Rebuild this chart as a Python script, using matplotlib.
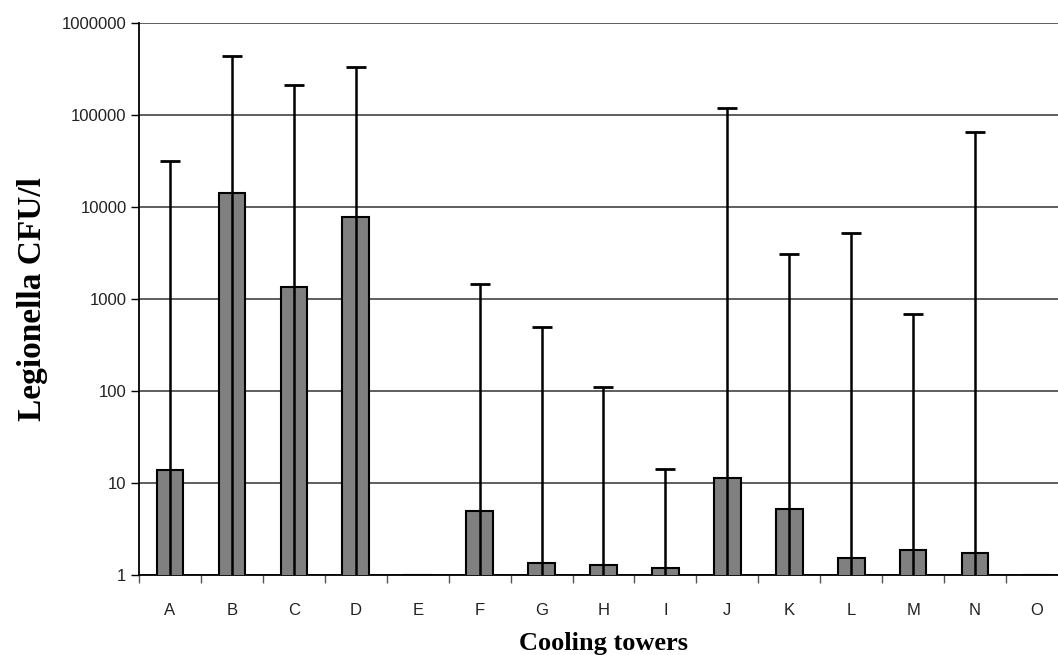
import numpy as np
import matplotlib
matplotlib.use("Agg")
import matplotlib.pyplot as plt

# cooling towers, geometric mean and upper error limit (Legionella CFU/l)
towers = ["A", "B", "C", "D", "E", "F", "G", "H", "I", "J", "K", "L", "M", "N", "O"]
means = [13.7, 14100, 1340, 7850, 1.0, 4.96, 1.35, 1.28, 1.2, 11.2, 5.2, 1.52, 1.87, 1.72, 1.0]
upper = [31600, 441000, 212000, 330000, None, 1450, 500, 110, 14.3, 120000, 3060, 5250, 680, 65300, None]

fig = plt.figure(figsize=(10.58, 6.55), dpi=100)
ax = fig.add_axes([139 / 1058, 1 - 575 / 655, 929 / 1058, 552 / 655])

x = np.arange(len(towers))
vals = np.array(means)

ax.bar(x, vals, width=0.43, color="#808080", edgecolor="black", linewidth=1.5, zorder=3)

# error bars (upper limit only visible, line runs down through the bar)
ex = [i for i, u in enumerate(upper) if u is not None]
ev = vals[ex]
eu = np.array([upper[i] for i in ex])
ax.errorbar(x[ex], ev, yerr=[ev - 0.1, eu - ev], fmt="none", ecolor="black",
            elinewidth=1.8, capsize=7.5, capthick=2, zorder=4)

ax.set_yscale("log")
ax.set_ylim(1, 1e6)
ax.set_xlim(-0.5, 14.5)
ax.set_yticks([1, 10, 100, 1000, 10000, 100000, 1000000])
ax.set_yticklabels(["1", "10", "100", "1000", "10000", "100000", "1000000"])
ax.minorticks_off()
ax.yaxis.grid(True, color="#333333", linewidth=1.1, zorder=0)
ax.set_axisbelow(True)

ax.set_xticks(x)
ax.set_xticklabels(towers)
ax.set_xticks(np.arange(-0.5, 15, 1), minor=True)
ax.tick_params(axis="x", which="major", length=0, pad=20, labelsize=12)
ax.tick_params(axis="x", which="minor", length=6, width=1, color="#555555")
ax.tick_params(axis="y", length=6, width=1, pad=3, labelsize=12, colors="black")
for lab in ax.get_xticklabels() + ax.get_yticklabels():
    lab.set_fontfamily("Liberation Sans")
    lab.set_color("#222222")

ax.spines["top"].set_visible(False)
ax.spines["right"].set_visible(False)
ax.spines["left"].set_linewidth(1.3)
ax.spines["bottom"].set_linewidth(1.3)

ax.set_xlabel("Cooling towers", fontfamily="Liberation Serif", fontweight="bold",
              fontsize=19, labelpad=10)
ax.set_ylabel("Legionella CFU/l", fontfamily="Liberation Serif", fontweight="bold",
              fontsize=24, labelpad=10)

fig.savefig("out.png", dpi=100)
